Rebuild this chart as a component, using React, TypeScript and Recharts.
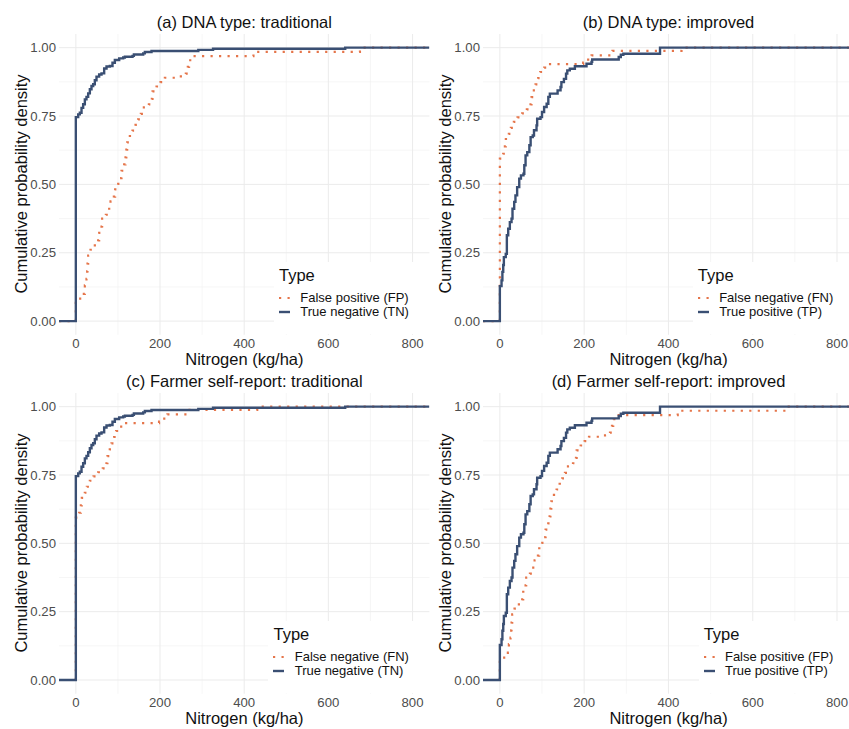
import React from 'react';
import { LineChart, Line, XAxis, YAxis, CartesianGrid } from 'recharts';

const FONT = '"Liberation Sans", Arial, Helvetica, sans-serif';
const ORANGE = '#E5754A';
const NAVY = '#3A4F73';

// Axis ticks
const xTicks = [0, 200, 400, 600, 800];
const xMinor = [100, 300, 500, 700];
const yTicks = [0, 0.25, 0.5, 0.75, 1];
const yMinor = [0.125, 0.375, 0.625, 0.875];
const xDomain = [-40, 840];
const yDomain = [-0.05, 1.05];

// True negative (TN) – empirical cumulative distribution
const tnNitrogen = [-40, 0, 5.6, 9.5, 13.5, 17.4, 21.4, 25.3, 29.3, 33.3, 37.2, 41.2, 45.1, 49.1, 55.4, 61, 67.3, 72.9, 80.8, 87.1, 92.7, 103, 112.5, 116.5, 134.7, 137.9, 160, 164, 179.8, 291, 326, 640, 840];
const tnCumulative = [0, 0.746, 0.756, 0.762, 0.78, 0.793, 0.811, 0.82, 0.833, 0.848, 0.86, 0.866, 0.881, 0.894, 0.902, 0.906, 0.924, 0.931, 0.933, 0.945, 0.955, 0.961, 0.964, 0.967, 0.97, 0.975, 0.979, 0.984, 0.988, 0.992, 0.996, 1, 1];

// True positive (TP)
const tpNitrogen = [-40, 0, 4, 6, 8, 9.5, 14, 16.6, 19.8, 23.7, 27.7, 30, 34, 37, 41, 46, 50, 56, 58, 61, 65, 70, 73, 78, 81, 87, 88.5, 96.5, 100, 105, 111, 115, 118.6, 137, 144, 146, 152, 157, 160, 166, 178, 205.6, 217.5, 219, 282, 287, 293, 380, 840];
const tpCumulative = [0, 0.128, 0.149, 0.18, 0.205, 0.234, 0.246, 0.314, 0.338, 0.362, 0.375, 0.411, 0.436, 0.46, 0.49, 0.521, 0.533, 0.539, 0.57, 0.606, 0.618, 0.643, 0.673, 0.679, 0.698, 0.716, 0.74, 0.746, 0.765, 0.783, 0.795, 0.82, 0.832, 0.844, 0.856, 0.874, 0.886, 0.905, 0.917, 0.923, 0.932, 0.941, 0.948, 0.957, 0.966, 0.974, 0.978, 1, 1];

// False positive (FP)
const fpNitrogen = [-40, 0, 19, 21.4, 25.3, 26.9, 27.7, 29.3, 34.8, 45.1, 53, 55.4, 61, 62.5, 71.3, 79.2, 82.4, 90.3, 93.4, 100.6, 107.7, 108.5, 114.8, 118, 120, 122, 128.3, 134.6, 141.8, 148, 154.4, 161.6, 173.5, 180.6, 182.2, 191.7, 201.2, 211.5, 249.5, 261.3, 266, 269, 279, 422, 675, 840];
const fpCumulative = [0, 0.082, 0.1, 0.131, 0.155, 0.182, 0.21, 0.24, 0.261, 0.277, 0.295, 0.323, 0.346, 0.375, 0.389, 0.411, 0.438, 0.455, 0.482, 0.502, 0.523, 0.55, 0.573, 0.599, 0.627, 0.654, 0.677, 0.697, 0.718, 0.738, 0.758, 0.782, 0.793, 0.813, 0.84, 0.858, 0.874, 0.89, 0.895, 0.905, 0.93, 0.954, 0.969, 0.985, 1, 1];

// False negative (FN)
const fnNitrogen = [-40, 0, 7.9, 11.9, 14.2, 21.3, 26.1, 33.2, 41.9, 52.9, 64, 72.7, 75.1, 80.6, 84.6, 90.9, 95.7, 105.1, 116.2, 197.7, 205.6, 217.5, 267.2, 431, 840];
const fnCumulative = [0, 0.594, 0.612, 0.639, 0.666, 0.685, 0.707, 0.729, 0.745, 0.76, 0.774, 0.793, 0.819, 0.844, 0.866, 0.889, 0.911, 0.927, 0.94, 0.945, 0.956, 0.972, 0.988, 1, 1];

const panelTitles = [
  '(a) DNA type: traditional',
  '(b) DNA type: improved',
  '(c) Farmer self-report: traditional',
  '(d) Farmer self-report: improved',
];

type Pt = { n: number; p: number };
const toSeries = (xs: number[], ys: number[]): Pt[] => xs.map((n, i) => ({ n, p: ys[i] }));

const SERIES: Record<string, { name: string; data: Pt[] }> = {
  TN: { name: 'True negative (TN)', data: toSeries(tnNitrogen, tnCumulative) },
  TP: { name: 'True positive (TP)', data: toSeries(tpNitrogen, tpCumulative) },
  FP: { name: 'False positive (FP)', data: toSeries(fpNitrogen, fpCumulative) },
  FN: { name: 'False negative (FN)', data: toSeries(fnNitrogen, fnCumulative) },
};

const PANELS = [
  { title: panelTitles[0], dotted: 'FP', solid: 'TN', plot: { x: 59.2, y: 33.6, w: 370.4, h: 300.8 } },
  { title: panelTitles[1], dotted: 'FN', solid: 'TP', plot: { x: 483.1, y: 33.6, w: 370.9, h: 300.8 } },
  { title: panelTitles[2], dotted: 'FN', solid: 'TN', plot: { x: 59.2, y: 393.0, w: 370.4, h: 300.7 } },
  { title: panelTitles[3], dotted: 'FP', solid: 'TP', plot: { x: 483.1, y: 393.0, w: 370.9, h: 300.7 } },
];

const W = 849;
const H = 729;
const L = 45; // margin-left 5 + yaxis 40
const T = 5;
const R = 5;
const B = 35; // xaxis 30 + 5

const DASH = '2.2 6.3';

function Panel({ cfg }: { cfg: (typeof PANELS)[number] }) {
  const { plot } = cfg;
  const dotted = SERIES[cfg.dotted];
  const solid = SERIES[cfg.solid];
  const plotRight = plot.x + plot.w;
  const cy = plot.y + plot.h / 2;
  return (
    <>
      <div style={{ position: 'absolute', left: plot.x - L, top: plot.y - T }}>
        <LineChart
          width={L + plot.w + R}
          height={T + plot.h + B}
          margin={{ top: T, right: R, left: 5, bottom: B - 30 }}
        >
          <CartesianGrid verticalValues={xMinor} horizontalValues={yMinor} stroke="#F0F0F0" strokeWidth={0.6} />
          <CartesianGrid verticalValues={xTicks} horizontalValues={yTicks} stroke="#EBEBEB" strokeWidth={1} />
          <XAxis
            dataKey="n"
            type="number"
            domain={xDomain}
            ticks={xTicks}
            allowDataOverflow
            axisLine={false}
            tickLine={false}
            tickSize={0}
            tickMargin={3.5}
            height={30}
            tick={{ fill: '#4D4D4D', fontSize: 13.2, fontFamily: FONT }}
          />
          <YAxis
            type="number"
            domain={yDomain}
            ticks={yTicks}
            allowDataOverflow
            axisLine={false}
            tickLine={false}
            tickSize={0}
            tickMargin={3}
            width={40}
            tickFormatter={(v: number) => v.toFixed(2)}
            tick={{ fill: '#4D4D4D', fontSize: 13.2, fontFamily: FONT }}
          />
          <Line
            data={dotted.data}
            dataKey="p"
            name={dotted.name}
            type="stepAfter"
            stroke={ORANGE}
            strokeWidth={2.2}
            strokeDasharray={DASH}
            dot={false}
            activeDot={false}
            isAnimationActive={false}
          />
          <Line
            data={solid.data}
            dataKey="p"
            name={solid.name}
            type="stepAfter"
            stroke={NAVY}
            strokeWidth={2.4}
            dot={false}
            activeDot={false}
            isAnimationActive={false}
          />
        </LineChart>
      </div>
      {/* panel title */}
      <div
        style={{
          position: 'absolute',
          left: plot.x,
          width: plot.w,
          top: plot.y - 11.9 - 10,
          height: 20,
          lineHeight: '20px',
          textAlign: 'center',
          fontSize: 16.5,
          color: '#111',
          whiteSpace: 'nowrap',
        }}
      >
        {cfg.title}
      </div>
      {/* x axis title */}
      <div
        style={{
          position: 'absolute',
          left: plot.x,
          width: plot.w,
          top: plot.y + plot.h + 24.6 - 10,
          height: 20,
          lineHeight: '20px',
          textAlign: 'center',
          fontSize: 16.5,
          color: '#111',
          whiteSpace: 'nowrap',
        }}
      >
        Nitrogen (kg/ha)
      </div>
      {/* y axis title */}
      <div
        style={{
          position: 'absolute',
          left: plot.x - 38.3 - 150,
          top: cy - 10,
          width: 300,
          height: 20,
          lineHeight: '20px',
          textAlign: 'center',
          fontSize: 16.5,
          color: '#111',
          whiteSpace: 'nowrap',
          transform: 'rotate(-90deg)',
          transformOrigin: '50% 50%',
        }}
      >
        Cumulative probability density
      </div>
      {/* legend */}
      <div
        style={{
          position: 'absolute',
          right: W - plotRight,
          top: plot.y + 228.4,
          height: 71.6,
          background: '#fff',
          paddingLeft: 5,
          paddingRight: 20.7,
          boxSizing: 'border-box',
        }}
      >
        <div style={{ fontSize: 16.5, lineHeight: '26px', height: 26, color: '#111' }}>Type</div>
        <div style={{ height: 2.5 }} />
        {[
          { s: dotted, dashed: true, color: ORANGE },
          { s: solid, dashed: false, color: NAVY },
        ].map((it) => (
          <div
            key={it.s.name}
            style={{ display: 'flex', alignItems: 'center', height: 14, fontSize: 13, color: '#111', whiteSpace: 'nowrap' }}
          >
            <svg width={21.3} height={14} style={{ flex: 'none' }}>
              <line
                x1={0}
                y1={7}
                x2={11}
                y2={7}
                stroke={it.color}
                strokeWidth={it.dashed ? 2.2 : 2.4}
                strokeDasharray={it.dashed ? DASH : undefined}
              />
            </svg>
            <span style={{ lineHeight: '14px' }}>{it.s.name}</span>
          </div>
        ))}
      </div>
    </>
  );
}

export default function App() {
  return (
    <div
      style={{
        position: 'absolute',
        left: 0,
        top: 0,
        width: W,
        height: H,
        overflow: 'hidden',
        background: '#fff',
        fontFamily: FONT,
      }}
    >
      {PANELS.map((cfg) => (
        <Panel key={cfg.title} cfg={cfg} />
      ))}
    </div>
  );
}
